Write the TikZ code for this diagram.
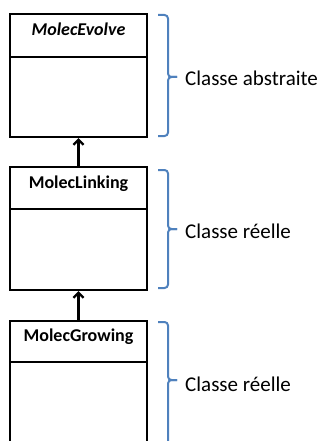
\documentclass[tikz,border=0pt]{standalone}
\usepackage{fontspec}
\setmainfont{Carlito}
\usetikzlibrary{arrows.meta,positioning}
\definecolor{braceblue}{HTML}{4F81BD}
\tikzset{
  hdr/.style={draw=black,line width=2.2pt,outer sep=0pt,minimum width=137pt,inner sep=0pt,text height=11pt,text depth=11pt,font=\fontsize{18}{21}\selectfont\bfseries},
  body/.style={draw=black,line width=2.2pt,outer sep=0pt,minimum width=137pt,inner sep=0pt},
  inherit/.style={line width=2.4pt,shorten >=1.1pt,-{Straight Barb[length=5pt,width=10pt,line width=2.4pt]}},
  bracepath/.style={draw=braceblue,line width=2pt,rounded corners=3.5pt},
  lbl/.style={anchor=west,inner sep=0pt,font=\fontsize{21}{24}\selectfont}
}
\begin{document}
\begin{tikzpicture}[x=1pt,y=1pt]
\useasboundingbox (0,0) rectangle (322,-441);
\clip (0,0) rectangle (322,-441);
% box 1
\node[hdr,minimum height=43pt] (h1) at (78.5,-35.5) {\textit{MolecEvolve}};
\node[body,minimum height=80pt,below=0pt of h1] (b1) {};
% box 2
\node[hdr,minimum height=42pt] (h2) at (78.5,-188) {MolecLinking};
\node[body,minimum height=81pt,below=0pt of h2] (b2) {};
% box 3
\node[hdr,minimum height=41pt] (h3) at (78.5,-341.5) {MolecGrowing};
\node[body,minimum height=130pt,below=0pt of h3] (b3) {};
% inheritance arrows
\draw[inherit] ([yshift=1.1pt]h2.north) -- (b1.south);
\draw[inherit] ([yshift=1.1pt]h3.north) -- (b2.south);
% braces
\draw[bracepath] (158,-15) -- (168,-15) -- (168,-77) -- (177,-77);
\draw[bracepath] (177,-77) -- (168,-77) -- (168,-136) -- (158,-136);
\draw[bracepath] (158,-170) -- (168,-170) -- (168,-229) -- (177,-229);
\draw[bracepath] (177,-229) -- (168,-229) -- (168,-288) -- (158,-288);
\draw[bracepath] (158,-322) -- (168,-322) -- (168,-380) -- (177,-380);
\draw[bracepath] (177,-380) -- (168,-380) -- (168,-460);
% labels
\node[lbl] (l1) at (185,-78) {Classe abstraite};
\node[lbl] (l2) at (185,-231) {Classe réelle};
\node[lbl] (l3) at (185,-384) {Classe réelle};
\end{tikzpicture}
\end{document}
